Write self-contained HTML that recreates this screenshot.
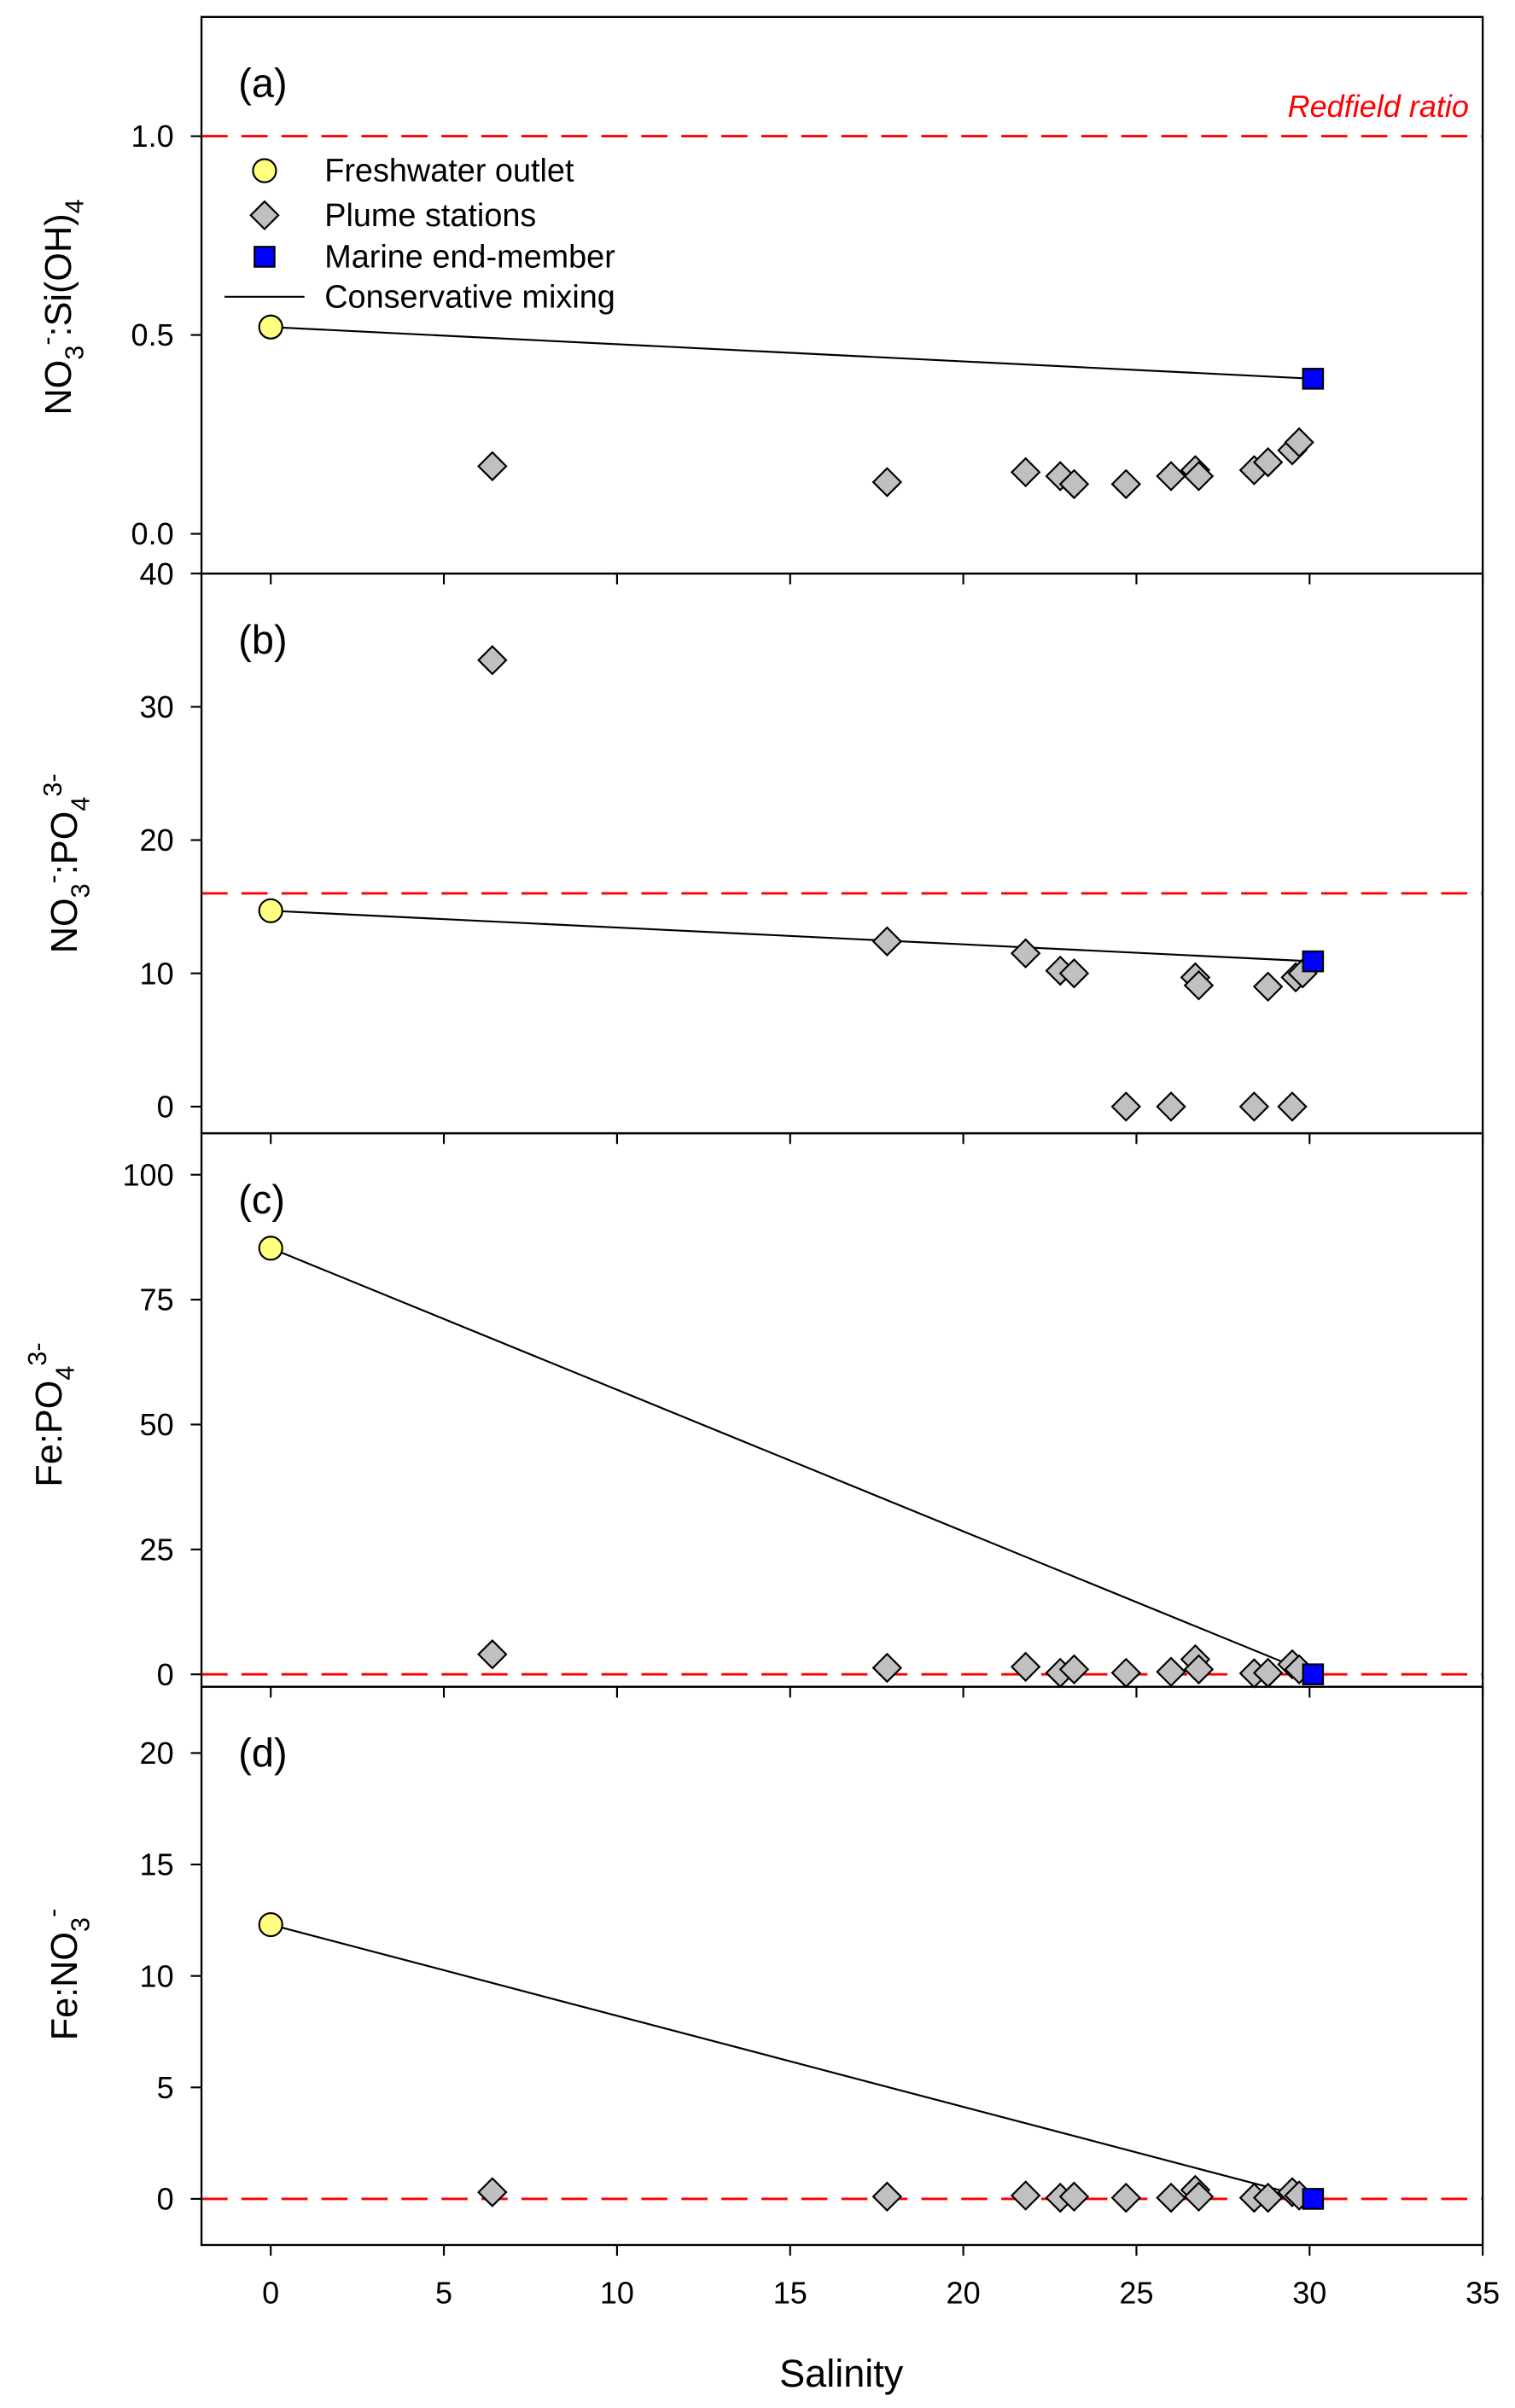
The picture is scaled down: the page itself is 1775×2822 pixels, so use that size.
<!DOCTYPE html>
<html><head><meta charset="utf-8"><style>
html,body{margin:0;padding:0;background:#fff;}
svg{display:block;}
text{font-family:"Liberation Sans",sans-serif;}
</style></head><body>
<svg id="chart" width="1775" height="2822" viewBox="0 0 985 1566" preserveAspectRatio="none" xmlns="http://www.w3.org/2000/svg"></svg>
<script>
const salPlume = [6.4, 17.8, 21.8, 22.8, 23.2, 24.7, 26.0, 26.7, 26.8, 28.4, 28.8, 29.5, 29.7];
const freshSal = 0;
const marineSal = 30.1;
const aPlume = [0.17, 0.13, 0.155, 0.145, 0.125, 0.125, 0.145, 0.16, 0.145, 0.16, 0.18, 0.21, 0.23];
const aEnds = [0.52, 0.39];
const bSal = [6.4, 17.8, 21.8, 22.8, 23.2, 24.7, 26.0, 26.7, 26.8, 28.4, 28.8, 29.5, 29.6, 29.8];
const bPlume = [33.5, 12.4, 11.5, 10.2, 10.0, 0, 0, 9.7, 9.1, 0, 9.0, 0, 9.7, 10.0];
const bEnds = [14.7, 10.9];
const cPlume = [4.0, 1.3, 1.5, 0.3, 1.0, 0.3, 0.5, 3.0, 1.0, 0.2, 0.3, 2.0, 1.0];
const cEnds = [85.3, 0];
const dPlume = [0.3, 0.1, 0.15, 0.05, 0.1, 0.05, 0.05, 0.4, 0.1, 0.05, 0.05, 0.3, 0.15];
const dEnds = [12.3, 0];
const xTicks = [0, 5, 10, 15, 20, 25, 30, 35];

const svg = document.getElementById('chart');
const NS = 'http://www.w3.org/2000/svg';
function mk(tag, attrs, parent){const e=document.createElementNS(NS,tag);for(const k in attrs)e.setAttribute(k,attrs[k]);(parent||svg).appendChild(e);return e;}
const L=131, R=964;
const xs = v => L + (v - (-2)) * (R - L) / 37;

const panels = [
 {id:'a', top:11, bot:373, min:-0.1, max:1.3, ticks:[0.0,0.5,1.0], fmt:v=>v.toFixed(1), sal:salPlume, vals:aPlume, ends:aEnds, red:1.0},
 {id:'b', top:373, bot:737, min:-2, max:40, ticks:[0,10,20,30,40], fmt:v=>String(v), sal:bSal, vals:bPlume, ends:bEnds, red:16},
 {id:'c', top:737, bot:1097, min:-2.5, max:108.3, ticks:[0,25,50,75,100], fmt:v=>String(v), sal:salPlume, vals:cPlume, ends:cEnds, red:0},
 {id:'d', top:1097, bot:1460, min:-2.07, max:22.97, ticks:[0,5,10,15,20], fmt:v=>String(v), sal:salPlume, vals:dPlume, ends:dEnds, red:0}
];

panels.forEach(p=>{
  const g = mk('g',{});
  
  
  const ys = v => p.bot - (v - p.min) * (p.bot - p.top) / (p.max - p.min);
  const rl = mk('line',{x1:L,x2:R,y1:ys(p.red),y2:ys(p.red),stroke:'#f00','stroke-width':1.6,'stroke-dasharray':'17,9'},g);
  
  
  p.ticks.forEach(t=>{
    mk('line',{x1:L-7,x2:L,y1:ys(t),y2:ys(t),stroke:'#000','stroke-width':1.2},g);
    const tx = mk('text',{x:L-18,y:ys(t)+7,'text-anchor':'end','font-size':20},g);
    tx.textContent = p.fmt(t);
    
    
  });
  xTicks.forEach(t=>{ mk('line',{x1:xs(t),x2:xs(t),y1:p.bot,y2:p.bot+7,stroke:'#000','stroke-width':1.2},g); });
  const ml = mk('line',{x1:xs(freshSal),y1:ys(p.ends[0]),x2:xs(marineSal),y2:ys(p.ends[1]),stroke:'#000','stroke-width':1.2},g);
  
  
  p.vals.forEach((v,i)=>{
    const x=xs(p.sal[i]), y=ys(v), h=9;
    const d = mk('polygon',{points:`${x},${y-h} ${x+h},${y} ${x},${y+h} ${x-h},${y}`,fill:'#c0c0c0',stroke:'#000','stroke-width':1.2},g);
    
    
  });
  const c = mk('circle',{cx:xs(freshSal),cy:ys(p.ends[0]),r:7.5,fill:'#ffff80',stroke:'#000','stroke-width':1.2},g);
  
  
  const s = mk('rect',{x:xs(marineSal)-6.5,y:ys(p.ends[1])-6.5,width:13,height:13,fill:'#0000ff',stroke:'#000','stroke-width':1.2},g);
  
  
  const lab = mk('text',{x:155,y:p.top+52,'font-size':26},g);
  lab.textContent='('+p.id+')';
  
  
  mk('rect',{x:L,y:p.top,width:R-L,height:p.bot-p.top,fill:'none',stroke:'#000','stroke-width':1.3},g);
});
xTicks.forEach(t=>{
  const tx = mk('text',{x:xs(t),y:1498,'text-anchor':'middle','font-size':20});
  tx.textContent=String(t);
  
  
});
</script>
<svg style="position:absolute;left:0;top:0" width="1775" height="2822" viewBox="0 0 985 1566" preserveAspectRatio="none" xmlns="http://www.w3.org/2000/svg">
 <g font-family="Liberation Sans, sans-serif">
  <text x="547" y="1552" text-anchor="middle" font-size="25">Salinity</text>
  <text x="955" y="76" text-anchor="end" font-size="20" font-style="italic" fill="#f00">Redfield ratio</text>
  <g font-size="21">
   <circle cx="172" cy="111" r="7.5" fill="#ffff80" stroke="#000" stroke-width="1.2"/>
   <text x="211" y="118">Freshwater outlet</text>
   <polygon points="172,131 181,140 172,149 163,140" fill="#c0c0c0" stroke="#000" stroke-width="1.2"/>
   <text x="211" y="147">Plume stations</text>
   <rect x="165.5" y="160.5" width="13" height="13" fill="#0000ff" stroke="#000" stroke-width="1.2"/>
   <text x="211" y="174">Marine end-member</text>
   <line x1="146" x2="198" y1="193" y2="193" stroke="#000" stroke-width="1.2"/>
   <text x="211" y="200">Conservative mixing</text>
  </g>
  <text transform="translate(46,270) rotate(-90)" font-size="24">NO<tspan font-size="17" dy="8">3</tspan><tspan font-size="17" dy="-18">-</tspan><tspan dy="10">:Si(OH)</tspan><tspan font-size="17" dy="8">4</tspan></text>
  <text transform="translate(50,620) rotate(-90)" font-size="24">NO<tspan font-size="17" dy="8">3</tspan><tspan font-size="17" dy="-18">-</tspan><tspan dy="10">:PO</tspan><tspan font-size="17" dy="8">4</tspan><tspan font-size="17" dy="-18">3-</tspan></text>
  <text transform="translate(40,967) rotate(-90)" font-size="24">Fe:PO<tspan font-size="17" dy="8">4</tspan><tspan font-size="17" dy="-18">3-</tspan></text>
  <text transform="translate(50,1327) rotate(-90)" font-size="24">Fe:NO<tspan font-size="17" dy="8">3</tspan><tspan font-size="17" dy="-18">-</tspan></text>
 </g>
</svg>
</body></html>
